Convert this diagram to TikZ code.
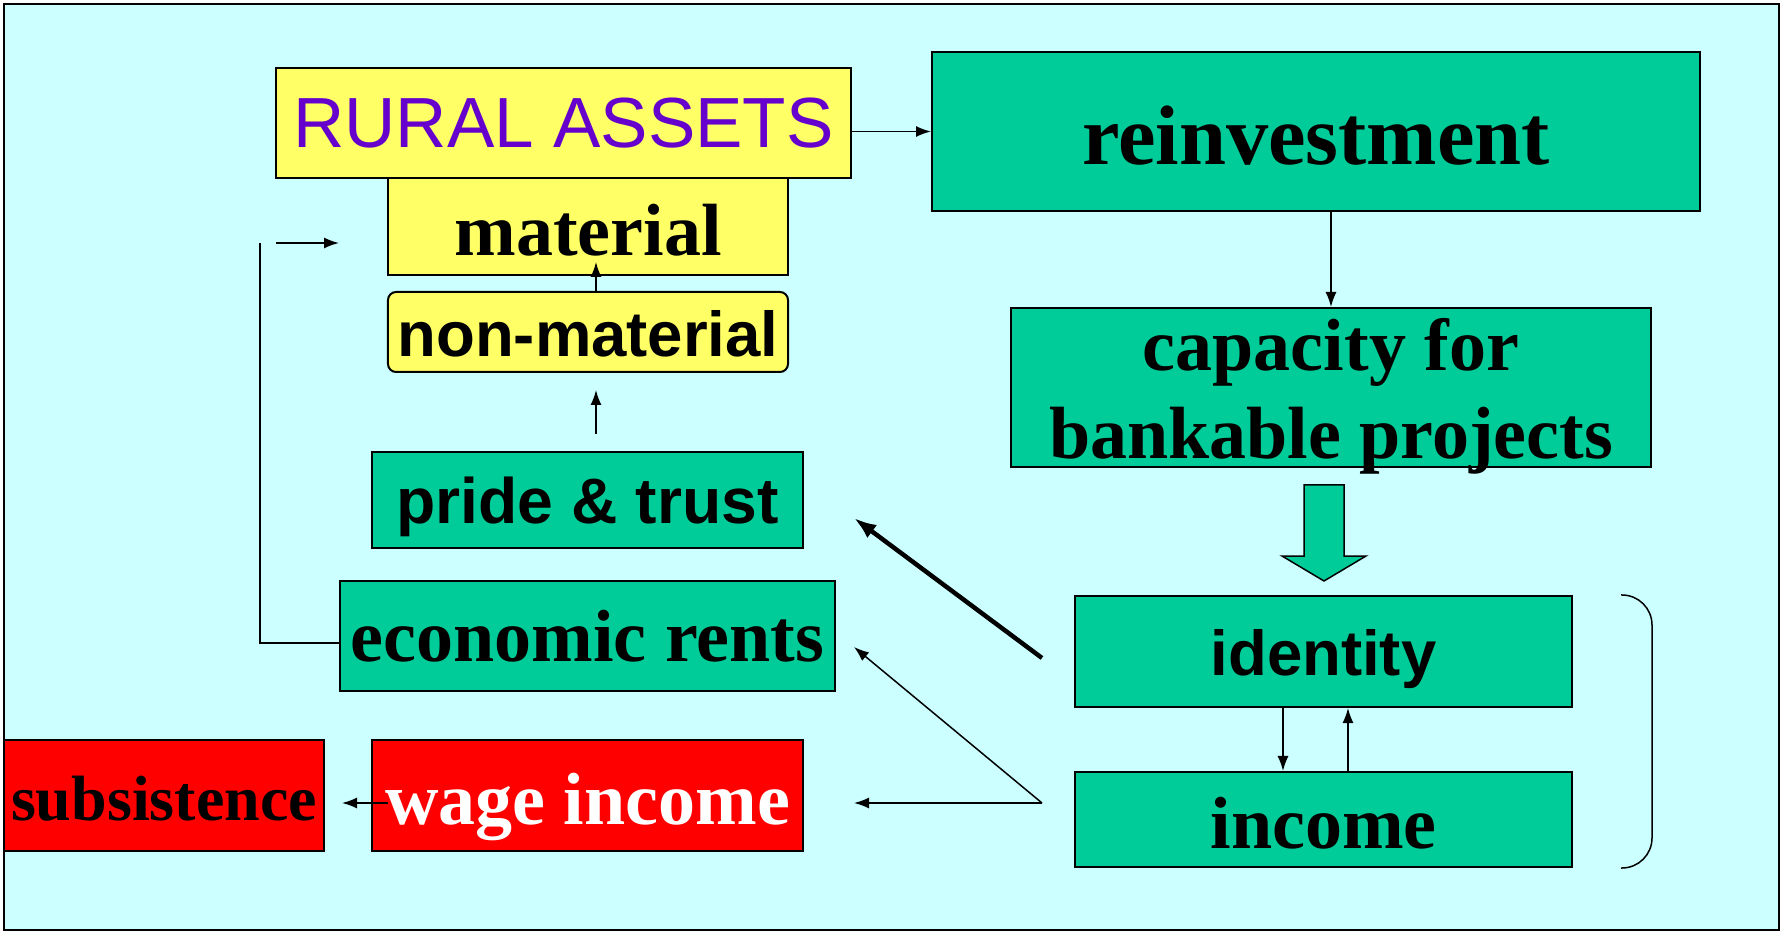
\documentclass[tikz,border=0pt]{standalone}
\usepackage{fontspec}
\setmainfont{Liberation Serif}
\newfontfamily\arialfont{Liberation Sans}
\usetikzlibrary{arrows.meta,calc}
\definecolor{bgcyan}{RGB}{204,255,255}
\definecolor{boxgreen}{RGB}{0,204,153}
\definecolor{boxyellow}{RGB}{255,255,102}
\definecolor{boxred}{RGB}{255,0,0}
\definecolor{assetpurple}{RGB}{102,0,204}
\newcommand{\sz}[1]{\fontsize{#1}{#1}\selectfont}

\begin{document}
\begin{tikzpicture}
  [x=0.4pt,y=-0.4pt,>={Latex[length=6pt,width=4.4pt]},line width=0.6pt,
   every node/.style={draw,line width=0.8pt,inner sep=0pt,align=center,text depth=0pt},
   tealbox/.style={fill=boxgreen},yellowbox/.style={fill=boxyellow},redbox/.style={fill=boxred},
   serifbig/.style={font=\bfseries\sz{29.6},text height=23.2pt},
   sansbold/.style={font=\arialfont\bfseries\sz{25.4},text height=19.4pt}]
  \useasboundingbox (0,0) rectangle (1782,932);
  \draw[line width=0.8pt,fill=bgcyan] (4,4) rectangle (1779,930);

  \node[yellowbox,text=assetpurple,font=\arialfont\sz{28.4},text height=20pt,minimum width=230pt,minimum height=44pt] (assets) at (563.5,123) {RURAL ASSETS};
  \node[yellowbox,serifbig,minimum width=160pt,minimum height=38.8pt] (material) at (588,226.5) {material};
  \node[yellowbox,sansbold,rounded corners=3.2pt,minimum width=160pt,minimum height=32pt] (nonmat) at (588,332) {non-material};
  \node[tealbox,sansbold,font=\arialfont\bfseries\sz{25.7},text height=18.6pt,minimum width=172.4pt,minimum height=38.4pt] (pride) at (587.5,500) {pride \& trust};
  \node[tealbox,serifbig,text height=20.4pt,minimum width=198pt,minimum height=44pt] (rents) at (587.5,636) {economic rents};
  \node[redbox,font=\bfseries\sz{25.6},text height=20pt,minimum width=128pt,minimum height=44.4pt] (subs) at (164,795.5) {subsistence};
  \node[redbox,serifbig,text=white,minimum width=172.4pt,minimum height=44.4pt] (wage) at (587.5,795.5) {wage income};
  \node[tealbox,font=\bfseries\sz{33.8},text height=26.8pt,minimum width=307.2pt,minimum height=63.6pt] (reinv) at (1316,131.5) {reinvestment};
  \node[tealbox,font=\bfseries\fontsize{29.6}{34.8}\selectfont,text height=56.4pt,minimum width=256pt,minimum height=63.6pt] (capac) at (1331,387.5) {capacity for\\bankable projects};
  \node[tealbox,sansbold,minimum width=198.8pt,minimum height=44.4pt] (ident) at (1323.5,651.5) {identity};
  \node[tealbox,serifbig,minimum width=198.8pt,minimum height=38pt] (income) at (1323.5,819.5) {income};

  \coordinate (split) at ($(income.west)+(-32,-16.5)$);
  \coordinate (loopTop) at (260,243);
  \coordinate (fbStart) at (276,243);
  \coordinate (fbEnd) at (339,243);

  \draw[->] (reinv.west -| assets.east) -- (reinv.west);
  \draw[->] (reinv.south -| capac.north) -- (capac.north);
  \draw[line width=0.6pt,fill=boxgreen] ($(capac.south)+(-27,17)$) -- ++(40,0) -- ++(0,71) -- ++(22,0)
    -- ($(capac.south)+(-7,113)$) -- ++(-42,-25) -- ++(22,0) -- cycle;
  \draw[->] ($(ident.south)+(-40.5,0)$) -- ($(income.north)+(-40.5,0)$);
  \draw[->] ($(income.north)+(24.5,0)$) -- ($(ident.south)+(24.5,0)$);
  \draw[rounded corners=12pt] ($(ident.north east)+(48,0)$) -| ($(income.south east)+(79,0)$) -- ($(income.south east)+(48,0)$);

  \draw[-{Latex[length=9pt,width=6.5pt]},line width=1.8pt] ($(ident.west)+(-32,6.5)$) -- ($(pride.east)+(50,18)$);
  \foreach \to/\dx/\dy in {rents/18/11,wage/50/7.5}
    \draw[->] (split) -- ($(\to.east)+(\dx,\dy)$);
  \draw[->] ($(wage.west)+(17,7.5)$) -- ($(subs.east)+(17,7.5)$);

  \draw ($(rents.west)+(0,7)$) -| (loopTop);
  \draw[->] (fbStart) -- (fbEnd);
  \draw[->] ($(pride.north)+(8.5,-17)$) -- ($(nonmat.south)+(8,17)$);
  \draw[->] ($(nonmat.north)+(8,0)$) -- ($(material.south)+(8,-14)$);
\end{tikzpicture}
\end{document}
